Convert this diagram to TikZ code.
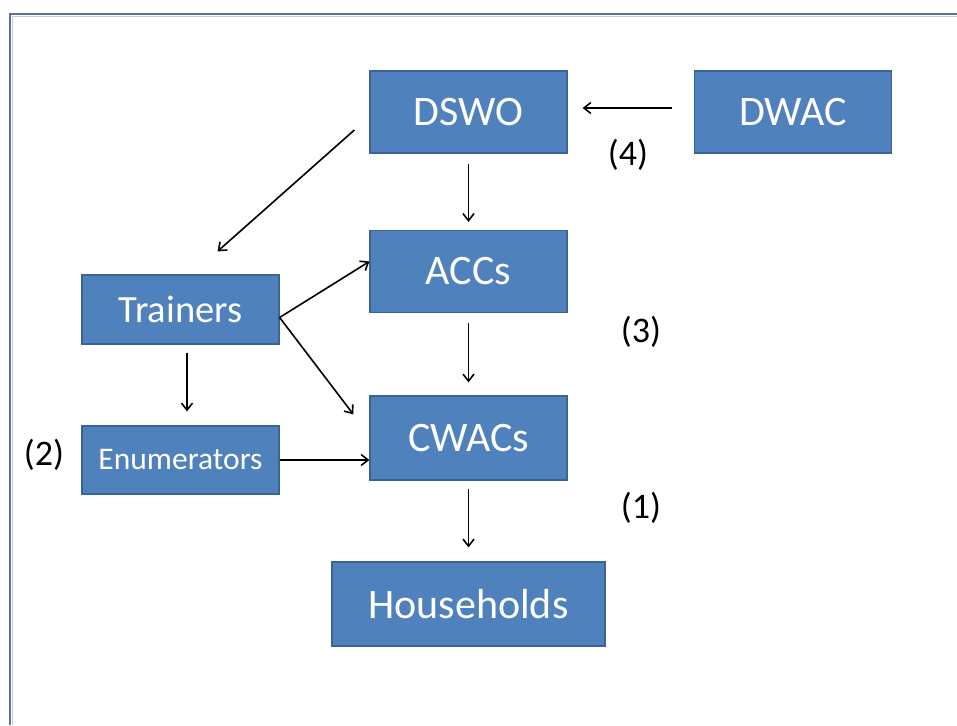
\documentclass[tikz,border=0pt]{standalone}
\usepackage{fontspec}
\setmainfont{Carlito}
\usetikzlibrary{arrows.meta}
\definecolor{boxfill}{HTML}{4F81BD}
\definecolor{boxline}{HTML}{3A6496}
\definecolor{frameline}{HTML}{5A7394}
\begin{document}
\begin{tikzpicture}[x=1pt,y=1pt,
  box/.style={draw=boxline,line width=1.2pt,fill=boxfill,text=white,inner sep=0pt,
    minimum width=197pt,minimum height=82pt,font=\fontsize{42}{46}\selectfont},
  arr/.style={line width=1.6pt,-{Straight Barb[length=7pt,width=11pt,line width=1.6pt]}},
  lbl/.style={font=\fontsize{36}{40}\selectfont,text=black}]
\useasboundingbox (0,0) rectangle (957,725);
\fill[white] (0,0) rectangle (957,725);
\draw[frameline,line width=2.2pt] (10,0) -- (10,711) -- (957,711);
\draw[frameline!35,line width=1pt] (12.5,0) -- (12.5,708.5) -- (957,708.5);
% nodes
\node[box] (dswo) at (468.5,613) {DSWO};
\node[box] (dwac) at (793,613) {DWAC};
\node[box] (acc) at (468.5,453.5) {ACCs};
\node[box,minimum height=84pt] (cwac) at (468.5,287) {CWACs};
\node[box,minimum width=273pt,minimum height=84pt] (hh) at (468.5,121) {Households};
\node[box,minimum height=69pt,font=\fontsize{38.5}{42}\selectfont] (tr) at (180.5,415.5) {Trainers};
\node[box,minimum height=68pt,font=\fontsize{31.5}{34}\selectfont] (en) at (180.5,265) {Enumerators};
% labels
\node[lbl] (l4) at (628,570) {(4)};
\node[lbl] (l3) at (641,393) {(3)};
\node[lbl] (l1) at (641,217) {(1)};
\node[lbl] (l2) at (44,270) {(2)};
% connectors
\draw[arr] ([xshift=-22pt,yshift=4pt]dwac.west) -- ([xshift=15pt,yshift=4pt]dswo.east);
\draw[arr,shorten <=10pt,shorten >=8pt] (dswo) -- (acc);
\draw[arr] ([xshift=-15pt,yshift=-18pt]dswo.west) -- ([xshift=37pt,yshift=23pt]tr.north);
\draw[arr] ([yshift=-8pt]tr.east) -- ([yshift=10pt]acc.west);
\draw[arr] ([yshift=-8pt]tr.east) -- ([xshift=-16pt,yshift=-19pt]cwac.north west);
\draw[arr,shorten <=8pt,shorten >=14pt] ([xshift=6.5pt]tr.south) -- ([xshift=6.5pt]en.north);
\draw[arr] (en.east) -- (cwac.west |- en.east);
\draw[arr,shorten <=10pt,shorten >=13pt] (acc) -- (cwac);
\draw[arr,shorten <=8pt,shorten >=14pt] (cwac) -- (hh);
\end{tikzpicture}
\end{document}
